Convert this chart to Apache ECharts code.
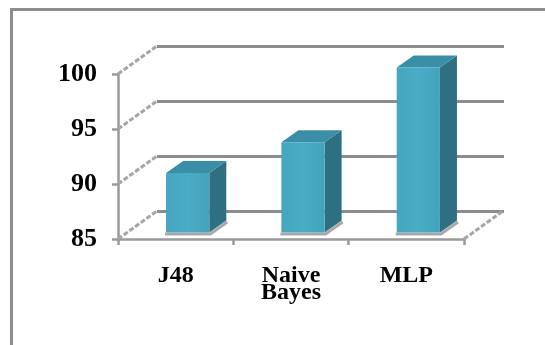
<!DOCTYPE html>
<html>
<head>
<meta charset="utf-8">
<script src="https://cdn.jsdelivr.net/npm/echarts@6/dist/echarts.min.js"></script>
<style>
  html, body { margin: 0; padding: 0; background: #fff; }
  #chart { width: 545px; height: 345px; }
</style>
</head>
<body>
<div id="chart"></div>
<script>
// Classifier accuracy (%)
const categories = ['J48', 'Naive Bayes', 'MLP'];
const accuracy = [90.4, 93.2, 100];
const yTicks = [85, 90, 95, 100];

const Y_MIN = 85, Y_MAX = 100, Y_STEP = 5;

// depth of the back wall relative to the front plane
const WALL_DX = 39, WALL_DY = -28;
// bar placement inside the box and bar depth
const BAR_SHIFT_X = 12, BAR_SHIFT_Y = -6.5, BAR_DX = 17, BAR_DY = -12;

const FRONT = '#4aacc6', TOP = '#3a8ea5', SIDE = '#2e6f82';
const GRID = '#8c8c8c', AXIS = '#9a9a9a';
const FONT = 'Liberation Serif';

const chart = echarts.init(document.getElementById('chart'), null, { renderer: 'canvas' });

chart.setOption({
  animation: false,
  backgroundColor: '#fff',
  graphic: [{
    type: 'rect',
    shape: { x: 11.5, y: 9.5, width: 700, height: 500 },
    style: { fill: 'none', stroke: '#8e8e8e', lineWidth: 3 },
    silent: true, z: -10
  }],
  grid: [
    { left: 118, right: 81, top: 74, bottom: 106 },            // front plane
    { left: 157, right: 41, top: 46, bottom: 134 }             // back wall
  ],
  xAxis: [{
    gridIndex: 0,
    type: 'category',
    data: categories,
    axisLine: { lineStyle: { color: AXIS, width: 2.5 } },
    axisTick: { show: true, length: 6, lineStyle: { color: AXIS, width: 2.5 } },
    axisLabel: {
      margin: 28,
      fontFamily: FONT, fontWeight: 'bold', fontSize: 24, color: '#000',
      lineHeight: 17,
      formatter: v => v.replace(' ', '\n')
    }
  }, {
    gridIndex: 1,
    type: 'category',
    data: categories,
    show: false
  }],
  yAxis: [{
    gridIndex: 0,
    type: 'value',
    min: Y_MIN, max: Y_MAX, interval: Y_STEP,
    axisLine: { show: true, lineStyle: { color: AXIS, width: 2.5 } },
    axisTick: { show: true, length: 6, lineStyle: { color: AXIS, width: 2.5 } },
    splitLine: { show: false },
    axisLabel: {
      margin: 21,
      fontFamily: FONT, fontWeight: 'bold', fontSize: 26, color: '#000'
    }
  }, {
    gridIndex: 1,
    type: 'value',
    min: Y_MIN, max: Y_MAX, interval: Y_STEP,
    axisLine: { show: false },
    axisTick: { show: false },
    axisLabel: { show: false },
    splitLine: { show: true, lineStyle: { color: GRID, width: 3 } }
  }],
  series: [
    {
      // receding lines from the front axis to the back wall, plus the floor's right edge
      type: 'custom',
      xAxisIndex: 0, yAxisIndex: 0,
      z: 1,
      silent: true,
      data: yTicks.map(v => [0, v]),
      renderItem: function (params, api) {
        const cs = params.coordSys;
        const v = api.value(1);
        const y = api.coord([0, v])[1];
        const style = { stroke: '#a6a6a6', lineWidth: 3, lineDash: [5, 2], fill: null };
        const children = [{
          type: 'line',
          shape: { x1: cs.x, y1: y, x2: cs.x + WALL_DX, y2: y + WALL_DY },
          style: style
        }];
        if (v === Y_MIN) {
          const xr = cs.x + cs.width;
          children.push({
            type: 'line',
            shape: { x1: xr, y1: y, x2: xr + WALL_DX, y2: y + WALL_DY },
            style: style
          });
        }
        return { type: 'group', children: children };
      }
    },
    {
      // the 3D columns
      type: 'custom',
      xAxisIndex: 0, yAxisIndex: 0,
      z: 5,
      data: accuracy.map((v, i) => [i, v]),
      renderItem: function (params, api) {
        const idx = api.value(0);
        const top = api.coord([idx, api.value(1)]);
        const base = api.coord([idx, Y_MIN]);
        const bw = api.size([1, 0])[0] * 0.375;
        const cx = top[0] + BAR_SHIFT_X;
        const l = cx - bw / 2, r = cx + bw / 2;
        const t = top[1] + BAR_SHIFT_Y, b = base[1] + BAR_SHIFT_Y;
        return {
          type: 'group',
          children: [
            { // shadow edge on the floor
              type: 'polyline',
              shape: { points: [[l - 1, b + 1.5], [r + 1, b + 1.5], [r + BAR_DX + 1, b + BAR_DY + 1.5]] },
              style: { stroke: '#a9a9a9', lineWidth: 3, fill: null }
            },
            {
              type: 'polygon',
              shape: { points: [[r, t], [r + BAR_DX, t + BAR_DY], [r + BAR_DX, b + BAR_DY], [r, b]] },
              style: { fill: SIDE }
            },
            {
              type: 'polygon',
              shape: { points: [[l, t], [l + BAR_DX, t + BAR_DY], [r + BAR_DX, t + BAR_DY], [r, t]] },
              style: { fill: TOP }
            },
            {
              type: 'rect',
              shape: { x: l, y: t, width: bw, height: b - t, r: 1 },
              style: {
                fill: new echarts.graphic.LinearGradient(0, 0, 1, 0, [
                  { offset: 0, color: '#46a6bf' },
                  { offset: 0.5, color: FRONT },
                  { offset: 1, color: '#44a3bc' }
                ])
              }
            }
          ]
        };
      }
    }
  ]
});
</script>
</body>
</html>
